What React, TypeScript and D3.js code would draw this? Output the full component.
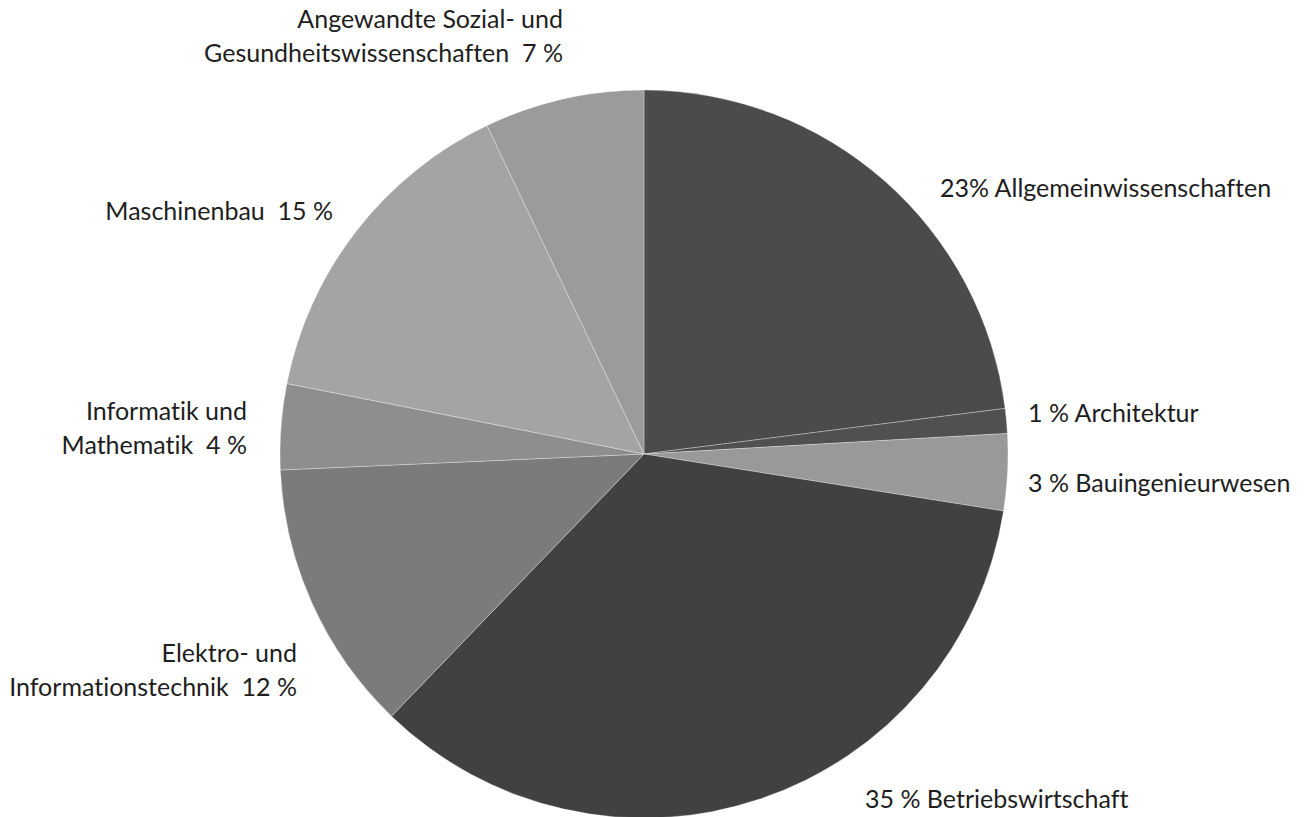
import { arc, pie, PieArcDatum } from "d3";

// shares (clockwise from 12 o'clock)
const categories = [
  "Allgemeinwissenschaften",
  "Architektur",
  "Bauingenieurwesen",
  "Betriebswirtschaft",
  "Elektro- und Informationstechnik",
  "Informatik und Mathematik",
  "Maschinenbau",
  "Angewandte Sozial- und Gesundheitswissenschaften",
];
const shares = [23, 1.1, 3.4, 34.7, 12.1, 3.8, 14.8, 7.1];

// label lines as printed (percent is filled in from the share)
const labelLines = [
  ["{p}% Allgemeinwissenschaften"],
  ["{p} % Architektur"],
  ["{p} % Bauingenieurwesen"],
  ["{p} % Betriebswirtschaft"],
  ["Elektro- und", "Informationstechnik  {p} %"],
  ["Informatik und", "Mathematik  {p} %"],
  ["Maschinenbau  {p} %"],
  ["Angewandte Sozial- und", "Gesundheitswissenschaften  {p} %"],
];

const fills = ["#4b4b4b", "#505050", "#999999", "#414141", "#7b7b7b", "#8e8e8e", "#a4a4a4", "#9b9b9b"];

// label anchor: x/y relative to the pie centre, baseline of first line
const labelLayout = [
  { x: 296, y: -257, anchor: "start" },
  { x: 384, y: -32, anchor: "start" },
  { x: 384, y: 38, anchor: "start" },
  { x: 221, y: 354, anchor: "start" },
  { x: -347, y: 208, anchor: "end" },
  { x: -397, y: -34, anchor: "end" },
  { x: -311, y: -234, anchor: "end" },
  { x: -81, y: -426, anchor: "end" },
];

type Slice = { name: string; value: number; i: number };

const width = 1306;
const height = 817;
const cx = 644;
const cy = 454;
const radius = 364;
const lineGap = 34;

export default function App() {
  const data: Slice[] = categories.map((name, i) => ({ name, value: shares[i], i }));
  const arcs = pie<Slice>()
    .sort(null)
    .value((d) => d.value)(data);
  const path = arc<PieArcDatum<Slice>>().innerRadius(0).outerRadius(radius);

  return (
    <svg
      width={width}
      height={height}
      style={{ position: "absolute", left: 0, top: 0, background: "#fff" }}
    >
      <g transform={`translate(${cx},${cy})`}>
        {arcs.map((a) => (
          <path
            key={a.data.name}
            d={path(a) || ""}
            fill={fills[a.data.i]}
            stroke="#ffffff"
            strokeOpacity={0.3}
            strokeWidth={1}
          />
        ))}
        {arcs.map((a) => {
          const lay = labelLayout[a.data.i];
          const pct = String(Math.round(a.data.value));
          return (
            <text
              key={`lbl-${a.data.name}`}
              x={lay.x}
              y={lay.y}
              textAnchor={lay.anchor}
              fontFamily="Lato, 'Open Sans', sans-serif"
              fontSize={25}
              fill="#1e1e1e"
              style={{ whiteSpace: "pre", fontVariantLigatures: "none" }}
            >
              {labelLines[a.data.i].map((line, k) => (
                <tspan key={k} x={lay.x} dy={k === 0 ? 0 : lineGap}>
                  {line.replace("{p}", pct)}
                </tspan>
              ))}
            </text>
          );
        })}
      </g>
    </svg>
  );
}
